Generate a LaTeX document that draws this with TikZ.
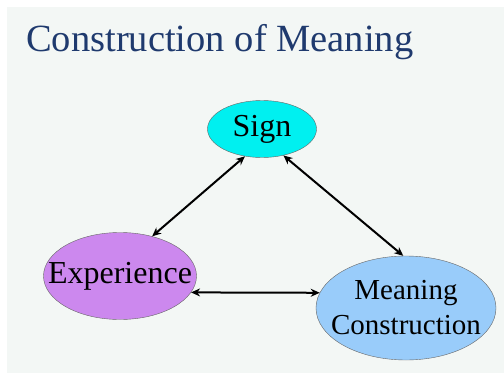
\documentclass[tikz,border=0pt]{standalone}
\usepackage{fontspec}
\setmainfont{Liberation Serif}
\usetikzlibrary{arrows.meta,shapes.geometric}

\definecolor{titleblue}{RGB}{31,58,110}
\definecolor{panel}{RGB}{243,247,245}
\definecolor{signcyan}{RGB}{0,240,240}
\definecolor{expviolet}{RGB}{204,136,238}
\definecolor{meanblue}{RGB}{153,204,250}

\begin{document}
\begin{tikzpicture}[x=1pt, y=-1pt,
  every node/.style = {shape=ellipse, draw=black!60, thin, inner sep=0pt,
    align=center},
  link/.style = {{Stealth[length=9pt,width=8pt]}-{Stealth[length=9pt,width=8pt]},
    line width=2pt}]
  \useasboundingbox (0,0) rectangle (504,375);
  \fill[white] (0,0) rectangle (504,375);
  \fill[panel] (7,7) rectangle (504,373);
  \node[shape=rectangle, draw=none, anchor=base west, text=titleblue,
    font=\fontsize{38.5}{40}\selectfont] (title) at (26,51) {Construction of Meaning};
  \node[fill=signcyan, minimum width=109pt, minimum height=57pt,
    font=\fontsize{32}{34}\selectfont] (sign) at (262,129) {Sign};
  \node[fill=expviolet, minimum width=153pt, minimum height=87pt, inner xsep=-18pt,
    font=\fontsize{32}{34}\selectfont] (exp) at (120,276) {Experience};
  \node[fill=meanblue, minimum width=180pt, minimum height=104pt, inner xsep=-11.5pt,
    font=\fontsize{29}{35}\selectfont] (mean) at (406,308) {Meaning\\Construction};
  \draw[link] (sign.238) -- (exp.51);
  \draw[link] (sign.-51) -- (mean.93);
  \draw[link] (exp.-13.6) -- (mean.170.1);
\end{tikzpicture}
\end{document}
